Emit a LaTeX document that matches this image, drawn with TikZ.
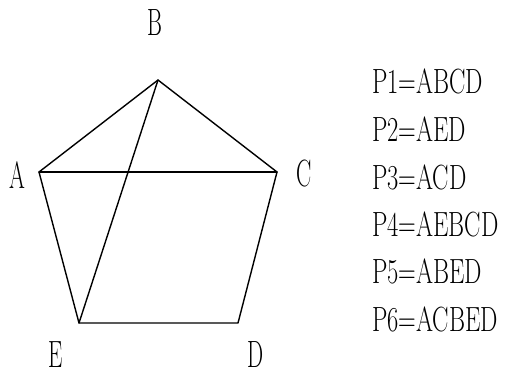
\documentclass[tikz,border=0pt]{standalone}
\begin{document}
\begin{tikzpicture}[x=1pt,y=-1pt,
  edge/.style={line width=1.4pt, line cap=round, line join=round},
  vlabel/.style={inner sep=0pt, font=\fontsize{38}{38}\selectfont},
  ptext/.style={inner sep=0pt, anchor=west, font=\fontsize{35}{35}\selectfont}]
\useasboundingbox (0,0) rectangle (505,376);
\coordinate (A) at (39,172);
\coordinate (B) at (158,80);
\coordinate (C) at (277,172);
\coordinate (D) at (238,323);
\coordinate (E) at (79,323);
\draw[edge] (A) -- (B) -- (C) -- (D) -- (E) -- (A);
\draw[edge] (A) -- (C);
\draw[edge] (B) -- (E);
\node[vlabel] (lA) at (17,175) {\scalebox{0.6}[1]{A}};
\node[vlabel] (lB) at (155,23) {\scalebox{0.6}[1]{B}};
\node[vlabel] (lC) at (304,174) {\scalebox{0.6}[1]{C}};
\node[vlabel] (lD) at (256,355) {\scalebox{0.6}[1]{D}};
\node[vlabel] (lE) at (56,355) {\scalebox{0.6}[1]{E}};
\node[ptext] (p1) at (372,81) {\scalebox{0.7}[1]{P1=ABCD}};
\node[ptext] (p2) at (372,129) {\scalebox{0.7}[1]{P2=AED}};
\node[ptext] (p3) at (372,177) {\scalebox{0.7}[1]{P3=ACD}};
\node[ptext] (p4) at (372,224) {\scalebox{0.7}[1]{P4=AEBCD}};
\node[ptext] (p5) at (372,271) {\scalebox{0.7}[1]{P5=ABED}};
\node[ptext] (p6) at (372,319) {\scalebox{0.7}[1]{P6=ACBED}};
\end{tikzpicture}
\end{document}
